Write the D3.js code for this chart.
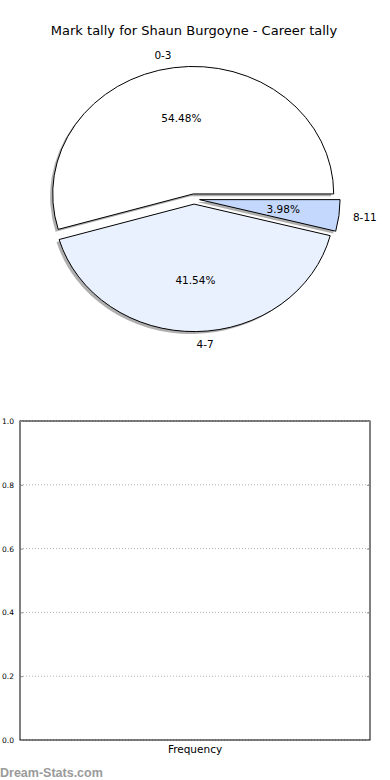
<!DOCTYPE html>
<html>
<head>
<meta charset="utf-8">
<script src="https://cdn.jsdelivr.net/npm/d3@7"></script>
<style>
  html, body { margin: 0; padding: 0; background: #fff; }
  svg { display: block; }
  text { font-family: "DejaVu Sans", sans-serif; }
</style>
</head>
<body>
<div id="chart"></div>
<script>
const title = "Mark tally for Shaun Burgoyne - Career tally";
const categories = ["0-3", "4-7", "8-11"];
const percentages = [54.48, 41.54, 3.98];
const sliceColors = ["#ffffff", "#eaf1fe", "#c4d8fd"];
const yTicks = [0.0, 0.2, 0.4, 0.6, 0.8, 1.0];
const xLabel = "Frequency";
const watermark = "Dream-Stats.com";

const W = 390, H = 780;
const svg = d3.select("#chart").append("svg").attr("width", W).attr("height", H);

// Title
svg.append("text").attr("x", 194).attr("y", 35)
  .attr("text-anchor", "middle").attr("font-size", 13).attr("fill", "#000")
  .text(title);

// ---- Pie ----
const cx = 194, cy = 199, rx = 140.5, ry = 127.5, explode = 0.04;
const pie = d3.pie().sort(null).value(d => d)
  .startAngle(Math.PI / 2).endAngle(Math.PI / 2 - 2 * Math.PI);
const arcs = pie(percentages);
const arc = d3.arc().innerRadius(0).outerRadius(ry);

function dir(a) { return [Math.sin(a), -Math.cos(a)]; }
function mid(d) { return (d.startAngle + d.endAngle) / 2; }

const pieG = svg.append("g");
// shadows
arcs.forEach((d, i) => {
  const [dx, dy] = dir(mid(d));
  const ox = cx + explode * rx * dx - 2.6, oy = cy + explode * ry * dy + 2.4;
  pieG.append("path")
    .attr("d", arc(d))
    .attr("transform", `translate(${ox},${oy}) scale(${rx / ry},1)`)
    .attr("fill", "#4d4d4d").attr("fill-opacity", 0.45);
});
arcs.forEach((d, i) => {
  const [dx, dy] = dir(mid(d));
  const ox = cx + explode * rx * dx, oy = cy + explode * ry * dy;
  pieG.append("path")
    .attr("d", arc(d))
    .attr("transform", `translate(${ox},${oy}) scale(${rx / ry},1)`)
    .attr("fill", sliceColors[i]).attr("stroke", "#000").attr("stroke-width", 1)
    .attr("stroke-linejoin", "miter")
    .attr("vector-effect", "non-scaling-stroke");
});
arcs.forEach((d, i) => {
  const [dx, dy] = dir(mid(d));
  const lr = 1.1 + explode;
  pieG.append("text")
    .attr("x", cx + lr * rx * dx).attr("y", cy + lr * ry * dy)
    .attr("dy", "0.35em")
    .attr("text-anchor", dx < 0 ? "end" : "start")
    .attr("font-size", 10.5).text(categories[i]);
  const pr = 0.6 + explode;
  pieG.append("text")
    .attr("x", cx + pr * rx * dx).attr("y", cy + pr * ry * dy)
    .attr("dy", "0.35em").attr("text-anchor", "middle")
    .attr("font-size", 10.5).text(percentages[i].toFixed(2) + "%");
});

// ---- Lower axes ----
const ax = { left: 20, right: 370, top: 421, bottom: 740 };
const y = d3.scaleLinear().domain([0, 1]).range([ax.bottom, ax.top]);

const grid = svg.append("g");
yTicks.forEach(t => {
  grid.append("line")
    .attr("x1", ax.left).attr("x2", ax.right)
    .attr("y1", y(t)).attr("y2", y(t))
    .attr("stroke", "#b0b0b0").attr("stroke-width", 1)
    .attr("stroke-dasharray", "1,2");
});

svg.append("rect")
  .attr("x", ax.left).attr("y", ax.top)
  .attr("width", ax.right - ax.left).attr("height", ax.bottom - ax.top)
  .attr("fill", "none").attr("stroke", "#000").attr("stroke-width", 1);

const yAxis = d3.axisLeft(y).tickValues(yTicks).tickFormat(d3.format(".1f"))
  .tickSizeInner(-3).tickSizeOuter(0).tickPadding(6);
const yg = svg.append("g").attr("transform", `translate(${ax.left},0)`).call(yAxis);
yg.select(".domain").remove();
yg.selectAll(".tick line").attr("stroke", "#888");
yg.selectAll(".tick text").style("font-family", "'DejaVu Sans', sans-serif")
  .attr("font-size", 7.5).attr("fill", "#000");

const yAxisR = d3.axisRight(y).tickValues(yTicks).tickFormat("")
  .tickSizeInner(-3).tickSizeOuter(0);
const ygr = svg.append("g").attr("transform", `translate(${ax.right},0)`).call(yAxisR);
ygr.select(".domain").remove();
ygr.selectAll(".tick line").attr("stroke", "#888");

svg.append("text").attr("x", (ax.left + ax.right) / 2).attr("y", 753)
  .attr("text-anchor", "middle").attr("font-size", 10.5).text(xLabel);

svg.append("text").attr("x", 0).attr("y", 777)
  .style("font-family", "'Liberation Sans', Arial, sans-serif")
  .attr("font-size", 12.5).attr("font-weight", "bold").attr("fill", "#9a9a9a")
  .text(watermark);
</script>
</body>
</html>
